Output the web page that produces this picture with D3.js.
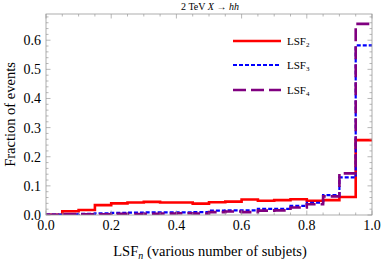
<!DOCTYPE html>
<html>
<head>
<meta charset="utf-8">
<script src="https://cdn.jsdelivr.net/npm/d3@7"></script>
<style>
  html, body { margin: 0; padding: 0; background: #fff; }
  svg text { font-family: "Liberation Serif", "DejaVu Serif", serif; fill: #000; }
</style>
</head>
<body>
<svg id="chart" width="382" height="262"></svg>
<script>
// bin edges 0.00 .. 1.00 in steps of 0.05
const binEdges = [0, 0.05, 0.1, 0.15, 0.2, 0.25, 0.3, 0.35, 0.4, 0.45, 0.5,
                  0.55, 0.6, 0.65, 0.7, 0.75, 0.8, 0.85, 0.9, 0.95, 1.0];

const lsf2 = [0.001, 0.013, 0.017, 0.034, 0.040, 0.043, 0.045, 0.043, 0.043, 0.039,
              0.044, 0.046, 0.053, 0.049, 0.051, 0.054, 0.049, 0.051, 0.062, 0.257];
const lsf3 = [0.001, 0.002, 0.004, 0.006, 0.007, 0.008, 0.009, 0.009, 0.009, 0.010,
              0.015, 0.016, 0.016, 0.021, 0.021, 0.031, 0.042, 0.068, 0.129, 0.582];
const lsf4 = [0.001, 0.003, 0.002, 0.002, 0.004, 0.003, 0.004, 0.005, 0.006, 0.005,
              0.010, 0.012, 0.010, 0.015, 0.016, 0.026, 0.037, 0.064, 0.143, 0.656];

const xTicks = [0, 0.2, 0.4, 0.6, 0.8, 1.0];
const yTicks = [0, 0.1, 0.2, 0.3, 0.4, 0.5, 0.6];

const series = [
  { name: 'LSF', sub: '2', values: lsf2, color: '#ff0000', width: 2.6, dash: null },
  { name: 'LSF', sub: '3', values: lsf3, color: '#0000ff', width: 2.2, dash: '4,2' },
  { name: 'LSF', sub: '4', values: lsf4, color: '#800080', width: 2.6, dash: '13,5' }
];

const margin = { top: 14, right: 10, bottom: 47, left: 46 };
const W = 382, H = 262;
const width = W - margin.left - margin.right;
const height = H - margin.top - margin.bottom;

const svg = d3.select('#chart');
const g = svg.append('g').attr('transform', `translate(${margin.left},${margin.top})`);

const x = d3.scaleLinear().domain([0, 1]).range([0, width]);
const y = d3.scaleLinear().domain([0, 0.69]).range([height, 0]);

// --- histograms (step lines) ---
svg.append('clipPath').attr('id', 'plotclip')
  .append('rect').attr('x', 0).attr('y', -2).attr('width', width).attr('height', height + 2);

const line = d3.line()
  .x(d => x(d[0]))
  .y(d => y(d[1]))
  .curve(d3.curveStepAfter);

// legend order = draw order, purple ends up on top
series.forEach(s => {
  const pts = s.values.map((v, i) => [binEdges[i], v]);
  pts.push([1, s.values[s.values.length - 1]]);
  g.append('path')
    .attr('clip-path', 'url(#plotclip)')
    .attr('d', line(pts))
    .attr('fill', 'none')
    .attr('stroke', s.color)
    .attr('stroke-width', s.width)
    .attr('stroke-dasharray', s.dash);
});

// --- frame and ticks ---
const frameColor = '#9a9a9a';
g.append('rect')
  .attr('width', width).attr('height', height)
  .attr('fill', 'none').attr('stroke', frameColor).attr('stroke-width', 0.8);

const xMinor = d3.range(0, 1.0001, 0.05);
const yMinor = d3.range(0, 0.6801, 0.02);
const isMajorX = v => xTicks.some(t => Math.abs(t - v) < 1e-6);
const isMajorY = v => yTicks.some(t => Math.abs(t - v) < 1e-6);

const tickG = g.append('g').attr('stroke', frameColor).attr('stroke-width', 0.7);
xMinor.forEach(v => {
  const len = isMajorX(v) ? 4.5 : 2.5;
  tickG.append('line').attr('x1', x(v)).attr('x2', x(v)).attr('y1', height).attr('y2', height - len);
  tickG.append('line').attr('x1', x(v)).attr('x2', x(v)).attr('y1', 0).attr('y2', len);
});
yMinor.forEach(v => {
  const len = isMajorY(v) ? 4.5 : 2.5;
  tickG.append('line').attr('x1', 0).attr('x2', len).attr('y1', y(v)).attr('y2', y(v));
  tickG.append('line').attr('x1', width).attr('x2', width - len).attr('y1', y(v)).attr('y2', y(v));
});

// tick labels
g.append('g').selectAll('text').data(xTicks).join('text')
  .attr('x', d => x(d)).attr('y', height + 15)
  .attr('text-anchor', 'middle')
  .style('font-size', '14px')
  .text(d => d.toFixed(1));

g.append('g').selectAll('text').data(yTicks).join('text')
  .attr('x', -5).attr('y', d => y(d)).attr('dy', '0.35em')
  .attr('text-anchor', 'end')
  .style('font-size', '14px')
  .text(d => d.toFixed(1));

// axis labels
const xl = svg.append('text')
  .attr('x', 210).attr('y', 256)
  .attr('text-anchor', 'middle')
  .style('font-size', '14.5px');
xl.append('tspan').text('LSF');
xl.append('tspan').attr('dy', 3).style('font-size', '10px').style('font-style', 'italic').text('n');
xl.append('tspan').attr('dy', -3).text(' (various number of subjets)');

svg.append('text')
  .attr('transform', `translate(15,${margin.top + height / 2}) rotate(-90)`)
  .attr('text-anchor', 'middle')
  .style('font-size', '14.5px')
  .text('Fraction of events');

// title
const tt = svg.append('text')
  .attr('x', 210).attr('y', 10)
  .attr('text-anchor', 'middle')
  .style('font-size', '10px');
tt.append('tspan').text('2 TeV ');
tt.append('tspan').style('font-style', 'italic').text('X');
tt.append('tspan').text(' \u2192 ');
tt.append('tspan').style('font-style', 'italic').text('hh');

// legend
const legend = svg.append('g');
const legendY = [41, 65, 90];
series.forEach((s, i) => {
  legend.append('line')
    .attr('x1', 233).attr('x2', 281)
    .attr('y1', legendY[i]).attr('y2', legendY[i])
    .attr('stroke', s.color).attr('stroke-width', s.width)
    .attr('stroke-dasharray', s.dash);
  const t = legend.append('text')
    .attr('x', 287).attr('y', legendY[i]).attr('dy', '0.35em')
    .style('font-size', '11px');
  t.append('tspan').text(s.name);
  t.append('tspan').attr('dy', 2.5).style('font-size', '7px').text(s.sub);
});
</script>
</body>
</html>
